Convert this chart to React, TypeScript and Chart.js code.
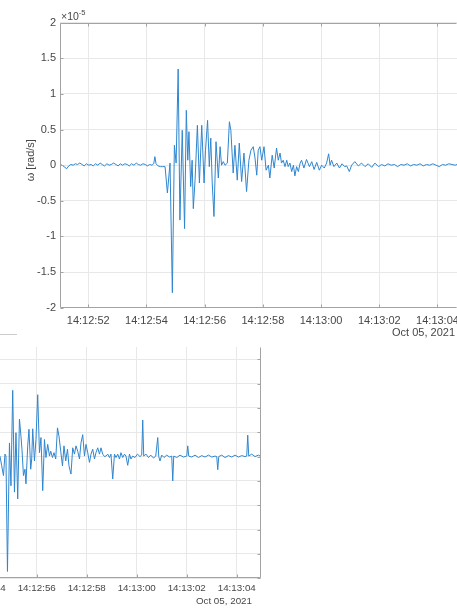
import React, { useEffect, useRef } from "react";
import { Chart, registerables } from "chart.js";

Chart.register(...registerables);

// ---- data (seconds after 14:12:00, angular rate in 1e-5 rad/s) ----
const TOP_T = [
  51.03, 51.1, 51.17, 51.26, 51.33, 51.4, 51.48, 51.56, 51.63, 51.71, 51.79, 51.86, 51.94,
  52.02, 52.1, 52.17, 52.25, 52.33, 52.41, 52.48, 52.56, 52.64, 52.72, 52.79, 52.87, 52.95,
  53.03, 53.1, 53.18, 53.26, 53.34, 53.41, 53.49, 53.57, 53.65, 53.72, 53.8, 53.88, 53.96,
  54.03, 54.11, 54.19, 54.25, 54.29, 54.33, 54.4, 54.48, 54.56,
  54.64, 54.72, 54.81, 54.89, 54.96, 55.02, 55.09, 55.15, 55.23, 55.31, 55.37, 55.42, 55.46,
  55.52, 55.57, 55.61, 55.67, 55.75, 55.82, 55.9, 55.98, 56.03, 56.1, 56.16, 56.21, 56.26,
  56.32, 56.39, 56.47, 56.53, 56.58, 56.64, 56.7, 56.78, 56.85, 56.9, 56.98, 57.04, 57.12,
  57.19, 57.27, 57.35, 57.44, 57.52, 57.59, 57.67, 57.73, 57.79, 57.84, 57.9, 57.96, 58.04,
  58.11, 58.19, 58.24, 58.32, 58.39, 58.47, 58.53, 58.59, 58.64, 58.7, 58.76, 58.82, 58.87,
  58.93, 58.99, 59.05, 59.1, 59.16, 59.22, 59.28,
  59.33, 59.41, 59.5, 59.6, 59.68, 59.76, 59.85, 59.94, 60.02, 60.11, 60.19, 60.26, 60.31,
  60.36, 60.44, 60.54, 60.63, 60.72, 60.81, 60.88, 60.97, 61.05, 61.16, 61.28, 61.39, 61.51,
  61.62, 61.74, 61.85, 61.97, 62.08, 62.19, 62.3, 62.41, 62.52, 62.63, 62.74, 62.85, 62.96,
  63.07, 63.18, 63.29, 63.4, 63.51, 63.62, 63.73, 63.84, 63.95, 64.06, 64.17, 64.28, 64.39,
  64.5, 64.61, 64.67,
];
const TOP_W = [
  0.01, 0.0, -0.02, -0.05, -0.01, 0.01, 0.0, 0.02, 0.01, 0.03, 0.01, -0.01, 0.02,
  0.0, 0.01, -0.01, 0.02, 0.0, 0.03, 0.01, -0.01, 0.02, 0.0, 0.01, 0.03, 0.01,
  -0.01, 0.02, 0.0, 0.02, 0.01, -0.01, 0.02, 0.0, 0.03, 0.01, 0.0, 0.02, 0.01,
  -0.01, 0.01, 0.0, 0.02, 0.12, 0.02, -0.01, -0.02, -0.02,
  -0.02, -0.39, 0.03, -1.79, 0.28, 0.03, 1.35, -0.77, 0.49, -0.89, 0.77, 0.07, 0.47,
  -0.3, 0.07, -0.61, -0.21, 0.56, -0.25, 0.56, -0.25, 0.21, 0.63, -0.02, 0.38, -0.25,
  -0.72, 0.33, -0.18, 0.26, 0.0, 0.05, 0.0, 0.03, 0.61, 0.49, -0.11, 0.28, -0.21,
  0.31, -0.23, 0.17, -0.37, 0.07, 0.21, 0.26, 0.1, -0.14, 0.21, 0.26, 0.07, 0.26,
  -0.07, 0.0, -0.18, 0.14, -0.04, 0.24, 0.07, 0.17, 0.03, 0.07, -0.02, 0.07, -0.02,
  0.03, -0.09, 0.0, -0.15, -0.02, -0.09, 0.03,
  0.07, -0.04, 0.08, -0.02, 0.05, -0.06, 0.04, -0.07, 0.0, -0.04, 0.03, 0.16, 0.0,
  0.07, -0.02, 0.03, -0.04, 0.02, -0.02, -0.01, -0.09, 0.0, 0.05, -0.01, 0.03, -0.02,
  0.02, -0.03, 0.03, -0.02, 0.01, -0.01, 0.02, 0.0, 0.01, -0.02, 0.01, 0.0, 0.02,
  -0.01, 0.01, 0.0, 0.02, -0.01, 0.01, 0.0, 0.02, 0.0, -0.02, 0.01, 0.0, 0.02,
  0.01, 0.0, 0.01,
];

const BOT_T = [
  51.4, 52.5, 53.5, 54.2, 54.45,
  54.53, 54.6, 54.67, 54.73, 54.77, 54.83, 54.91, 54.97, 55.04, 55.11, 55.17, 55.24, 55.31,
  55.37, 55.41, 55.47, 55.53, 55.57, 55.64, 55.69, 55.76, 55.8, 55.84, 55.91, 55.97, 56.04,
  56.11, 56.17, 56.24, 56.31, 56.37, 56.44, 56.51, 56.56, 56.63, 56.69, 56.76, 56.83, 56.89,
  56.96, 57.03, 57.09, 57.16, 57.23, 57.29, 57.37, 57.44, 57.51, 57.57, 57.64, 57.71, 57.77,
  57.84, 57.91, 57.97, 58.04, 58.11, 58.17, 58.24, 58.31, 58.37, 58.44, 58.51, 58.57, 58.64,
  58.71, 58.77, 58.84, 58.91, 58.97, 59.04, 59.11, 59.17, 59.24, 59.31, 59.37, 59.44, 59.51,
  59.57, 59.64, 59.71, 59.77, 59.84, 59.93, 60.03, 60.13, 60.2, 60.24, 60.28, 60.37, 60.47,
  60.56, 60.67, 60.76, 60.84, 60.88, 60.93, 61.0, 61.09, 61.2, 61.31, 61.4, 61.44, 61.48,
  61.6, 61.73, 61.87, 62.0, 62.04, 62.08, 62.2, 62.33, 62.47, 62.6, 62.73, 62.87, 63.0,
  63.13, 63.2, 63.24, 63.28, 63.4, 63.53, 63.67, 63.8, 63.93, 64.07, 64.2, 64.33, 64.4,
  64.44, 64.48, 64.6, 64.73, 64.87, 64.97,
];
const BOT_W = [
  0.0, 0.01, 0.0, 0.01, 0.0,
  0.01, -0.19, -0.39, 0.05, 0.01, -2.36, 0.28, -0.6, 1.36, -0.73, 0.49, -0.87, 0.77,
  0.42, 0.15, -0.39, -0.26, -0.56, 0.22, 0.56, -0.26, -0.05, 0.57, -0.09, 0.35, 1.27,
  0.08, 0.39, -0.7, 0.35, -0.02, 0.25, 0.01, 0.11, -0.02, 0.08, -0.05, 0.59, 0.42,
  0.11, -0.19, 0.22, -0.09, 0.15, -0.19, -0.36, 0.18, 0.05, 0.22, 0.11, -0.05, 0.28,
  0.45, 0.01, 0.25, 0.08, -0.12, 0.05, 0.15, -0.05, 0.08, 0.18, 0.05, 0.18, 0.05,
  0.0, 0.01, 0.05, -0.02, 0.05, -0.46, 0.05, -0.02, 0.05, -0.05, 0.08, -0.02, 0.05,
  0.01, -0.18, 0.05, -0.05, 0.01, -0.02, 0.05, 0.0, 0.03, 0.75, 0.01, 0.05, -0.02,
  0.03, -0.03, 0.01, 0.39, 0.0, -0.09, 0.03, -0.02, 0.03, -0.01, 0.01, -0.5, 0.01,
  -0.02, 0.03, -0.01, 0.01, 0.22, 0.01, -0.01, 0.03, -0.02, 0.02, -0.01, 0.03, -0.01,
  0.01, 0.0, -0.27, 0.0, 0.03, -0.02, 0.02, -0.01, 0.03, -0.01, 0.02, 0.0, 0.01,
  0.44, 0.01, 0.05, 0.0, 0.03, 0.0,
];

const X_TICKS = [52, 54, 56, 58, 60, 62, 64];
const X_TICK_LABELS = ["14:12:52", "14:12:54", "14:12:56", "14:12:58", "14:13:00", "14:13:02", "14:13:04"];
const TOP_Y_TICKS = [-2, -1.5, -1, -0.5, 0, 0.5, 1, 1.5, 2];
const BOT_Y_TICKS = [-2.5, -2, -1.5, -1, -0.5, 0, 0.5, 1, 1.5, 2];
const DATE_LABEL = "Oct 05, 2021";
const Y_TITLE = "\u03C9 [rad/s]";
const EXP_BASE = "\u00D710";
const EXP_POWER = "-5";

const LINE = "#2f86cf";
const GRID = "#e8e8e8";
const AXIS = "#a3a3a3";
const TEXT = "#474747";
const FAMILY = '"Liberation Sans", Arial, Helvetica, sans-serif';

type Cfg = {
  t: number[];
  w: number[];
  xMin: number;
  xMax: number;
  yMin: number;
  yMax: number;
  yTicks: number[];
  width: number;
  height: number;
  left: number;
  top: number;
  padTop: number;
  padRight: number;
  yAxisWidth: number;
  xAxisHeight: number;
  font: number;
  xPad: number;
  boxTop: boolean;
  boxRight: boolean;
  dateDx: number;
  dateDy: number;
  decorations: boolean;
};

function makePlugin(cfg: Cfg) {
  return {
    id: "matlabAxes",
    afterDraw(chart: any) {
      const { ctx, chartArea: a, scales } = chart;
      const xs = scales.x;
      const ys = scales.y;
      const tl = 3;
      ctx.save();
      ctx.strokeStyle = AXIS;
      ctx.lineWidth = 1;
      const L = Math.round(a.left) + 0.5;
      const R = Math.round(a.right) - 0.5;
      const T = Math.round(a.top) + 0.5;
      const B = Math.round(a.bottom) - 0.5;
      ctx.beginPath();
      ctx.moveTo(L, T);
      ctx.lineTo(L, B);
      ctx.lineTo(R, B);
      if (cfg.boxRight) {
        ctx.moveTo(R, B);
        ctx.lineTo(R, T);
      }
      if (cfg.boxTop) {
        ctx.moveTo(L, T);
        ctx.lineTo(R, T);
      }
      xs.ticks.forEach((tk: any) => {
        const p = Math.round(xs.getPixelForValue(tk.value)) + 0.5;
        ctx.moveTo(p, B);
        ctx.lineTo(p, B - tl);
        if (cfg.boxTop) {
          ctx.moveTo(p, T);
          ctx.lineTo(p, T + tl);
        }
      });
      ys.ticks.forEach((tk: any) => {
        const p = Math.round(ys.getPixelForValue(tk.value)) + 0.5;
        ctx.moveTo(L, p);
        ctx.lineTo(L + tl, p);
        if (cfg.boxRight) {
          ctx.moveTo(R, p);
          ctx.lineTo(R - tl, p);
        }
      });
      ctx.stroke();

      ctx.fillStyle = TEXT;
      ctx.font = `${cfg.font}px ${FAMILY}`;
      ctx.textAlign = "right";
      ctx.textBaseline = "middle";
      ctx.fillText(DATE_LABEL, a.right + cfg.dateDx, a.bottom + cfg.dateDy);

      if (cfg.decorations) {
        ctx.textAlign = "left";
        ctx.textBaseline = "alphabetic";
        ctx.font = `10.5px ${FAMILY}`;
        const bx = a.left + 1;
        ctx.fillText(EXP_BASE, bx, a.top - 2.5);
        const w = ctx.measureText(EXP_BASE).width;
        ctx.font = `7.5px ${FAMILY}`;
        ctx.fillText(EXP_POWER, bx + w, a.top - 8);

        ctx.save();
        ctx.font = `11px ${FAMILY}`;
        ctx.translate(a.left - 29, (a.top + a.bottom) / 2 - 5);
        ctx.rotate(-Math.PI / 2);
        ctx.textAlign = "center";
        ctx.textBaseline = "middle";
        ctx.fillText(Y_TITLE, 0, 0);
        ctx.restore();
      }
      ctx.restore();
    },
  };
}

function WaveChart({ cfg }: { cfg: Cfg }) {
  const ref = useRef<HTMLCanvasElement | null>(null);
  useEffect(() => {
    if (!ref.current) return;
    const font = { size: cfg.font, family: FAMILY };
    const chart = new Chart(ref.current, {
      type: "line",
      data: {
        datasets: [
          {
            data: cfg.t.map((x, i) => ({ x, y: cfg.w[i] })),
            borderColor: LINE,
            borderWidth: 1,
            pointRadius: 0,
            tension: 0,
            fill: false,
          },
        ],
      },
      options: {
        animation: false,
        responsive: false,
        events: [],
        layout: { padding: { top: cfg.padTop, right: cfg.padRight, left: 0, bottom: 0 } },
        plugins: { legend: { display: false }, tooltip: { enabled: false } },
        scales: {
          x: {
            type: "linear",
            min: cfg.xMin,
            max: cfg.xMax,
            afterBuildTicks: (s: any) => {
              s.ticks = X_TICKS.map((v) => ({ value: v }));
            },
            afterFit: (s: any) => {
              s.height = cfg.xAxisHeight;
            },
            ticks: {
              autoSkip: false,
              maxRotation: 0,
              minRotation: 0,
              padding: cfg.xPad,
              color: TEXT,
              font,
              callback: (_v: any, i: number) => X_TICK_LABELS[i],
            },
            grid: { color: GRID, drawTicks: false },
            border: { display: false },
          },
          y: {
            type: "linear",
            min: cfg.yMin,
            max: cfg.yMax,
            afterBuildTicks: (s: any) => {
              s.ticks = cfg.yTicks.map((v) => ({ value: v }));
            },
            afterFit: (s: any) => {
              s.width = cfg.yAxisWidth;
            },
            ticks: {
              padding: 4,
              color: TEXT,
              font,
              callback: (v: any) => String(v),
            },
            grid: { color: GRID, drawTicks: false },
            border: { display: false },
          },
        },
      },
      plugins: [makePlugin(cfg)],
    } as any);
    return () => chart.destroy();
  }, [cfg]);
  return (
    <canvas
      ref={ref}
      width={cfg.width}
      height={cfg.height}
      style={{ position: "absolute", left: cfg.left, top: cfg.top, width: cfg.width, height: cfg.height, display: "block" }}
    />
  );
}

const TOP_CFG: Cfg = {
  t: TOP_T,
  w: TOP_W,
  xMin: 51.03,
  xMax: 64.67,
  yMin: -2,
  yMax: 2,
  yTicks: TOP_Y_TICKS,
  width: 480,
  height: 345,
  left: 0,
  top: 0,
  padTop: 22.7,
  padRight: 23,
  yAxisWidth: 60,
  xAxisHeight: 37.3,
  font: 11,
  xPad: 7,
  boxTop: true,
  boxRight: false,
  dateDx: -2,
  dateDy: 25.5,
  decorations: true,
};

const BOT_CFG: Cfg = {
  t: BOT_T,
  w: BOT_W,
  xMin: 51.4,
  xMax: 64.97,
  yMin: -2.5,
  yMax: 2.25,
  yTicks: BOT_Y_TICKS,
  width: 431,
  height: 278,
  left: -160,
  top: 330,
  padTop: 17,
  padRight: 10,
  yAxisWidth: 81.7,
  xAxisHeight: 29.7,
  font: 9.8,
  xPad: 4,
  boxTop: false,
  boxRight: true,
  dateDx: -9,
  dateDy: 23.4,
  decorations: false,
};

export default function App() {
  return (
    <div
      style={{
        position: "fixed",
        left: 0,
        top: 0,
        width: 457,
        height: 608,
        overflow: "hidden",
        background: "#ffffff",
      }}
    >
      <WaveChart cfg={BOT_CFG} />
      <WaveChart cfg={TOP_CFG} />
      <div style={{ position: "absolute", left: 0, top: 334, width: 17, height: 1, background: "#cccccc" }} />
    </div>
  );
}
